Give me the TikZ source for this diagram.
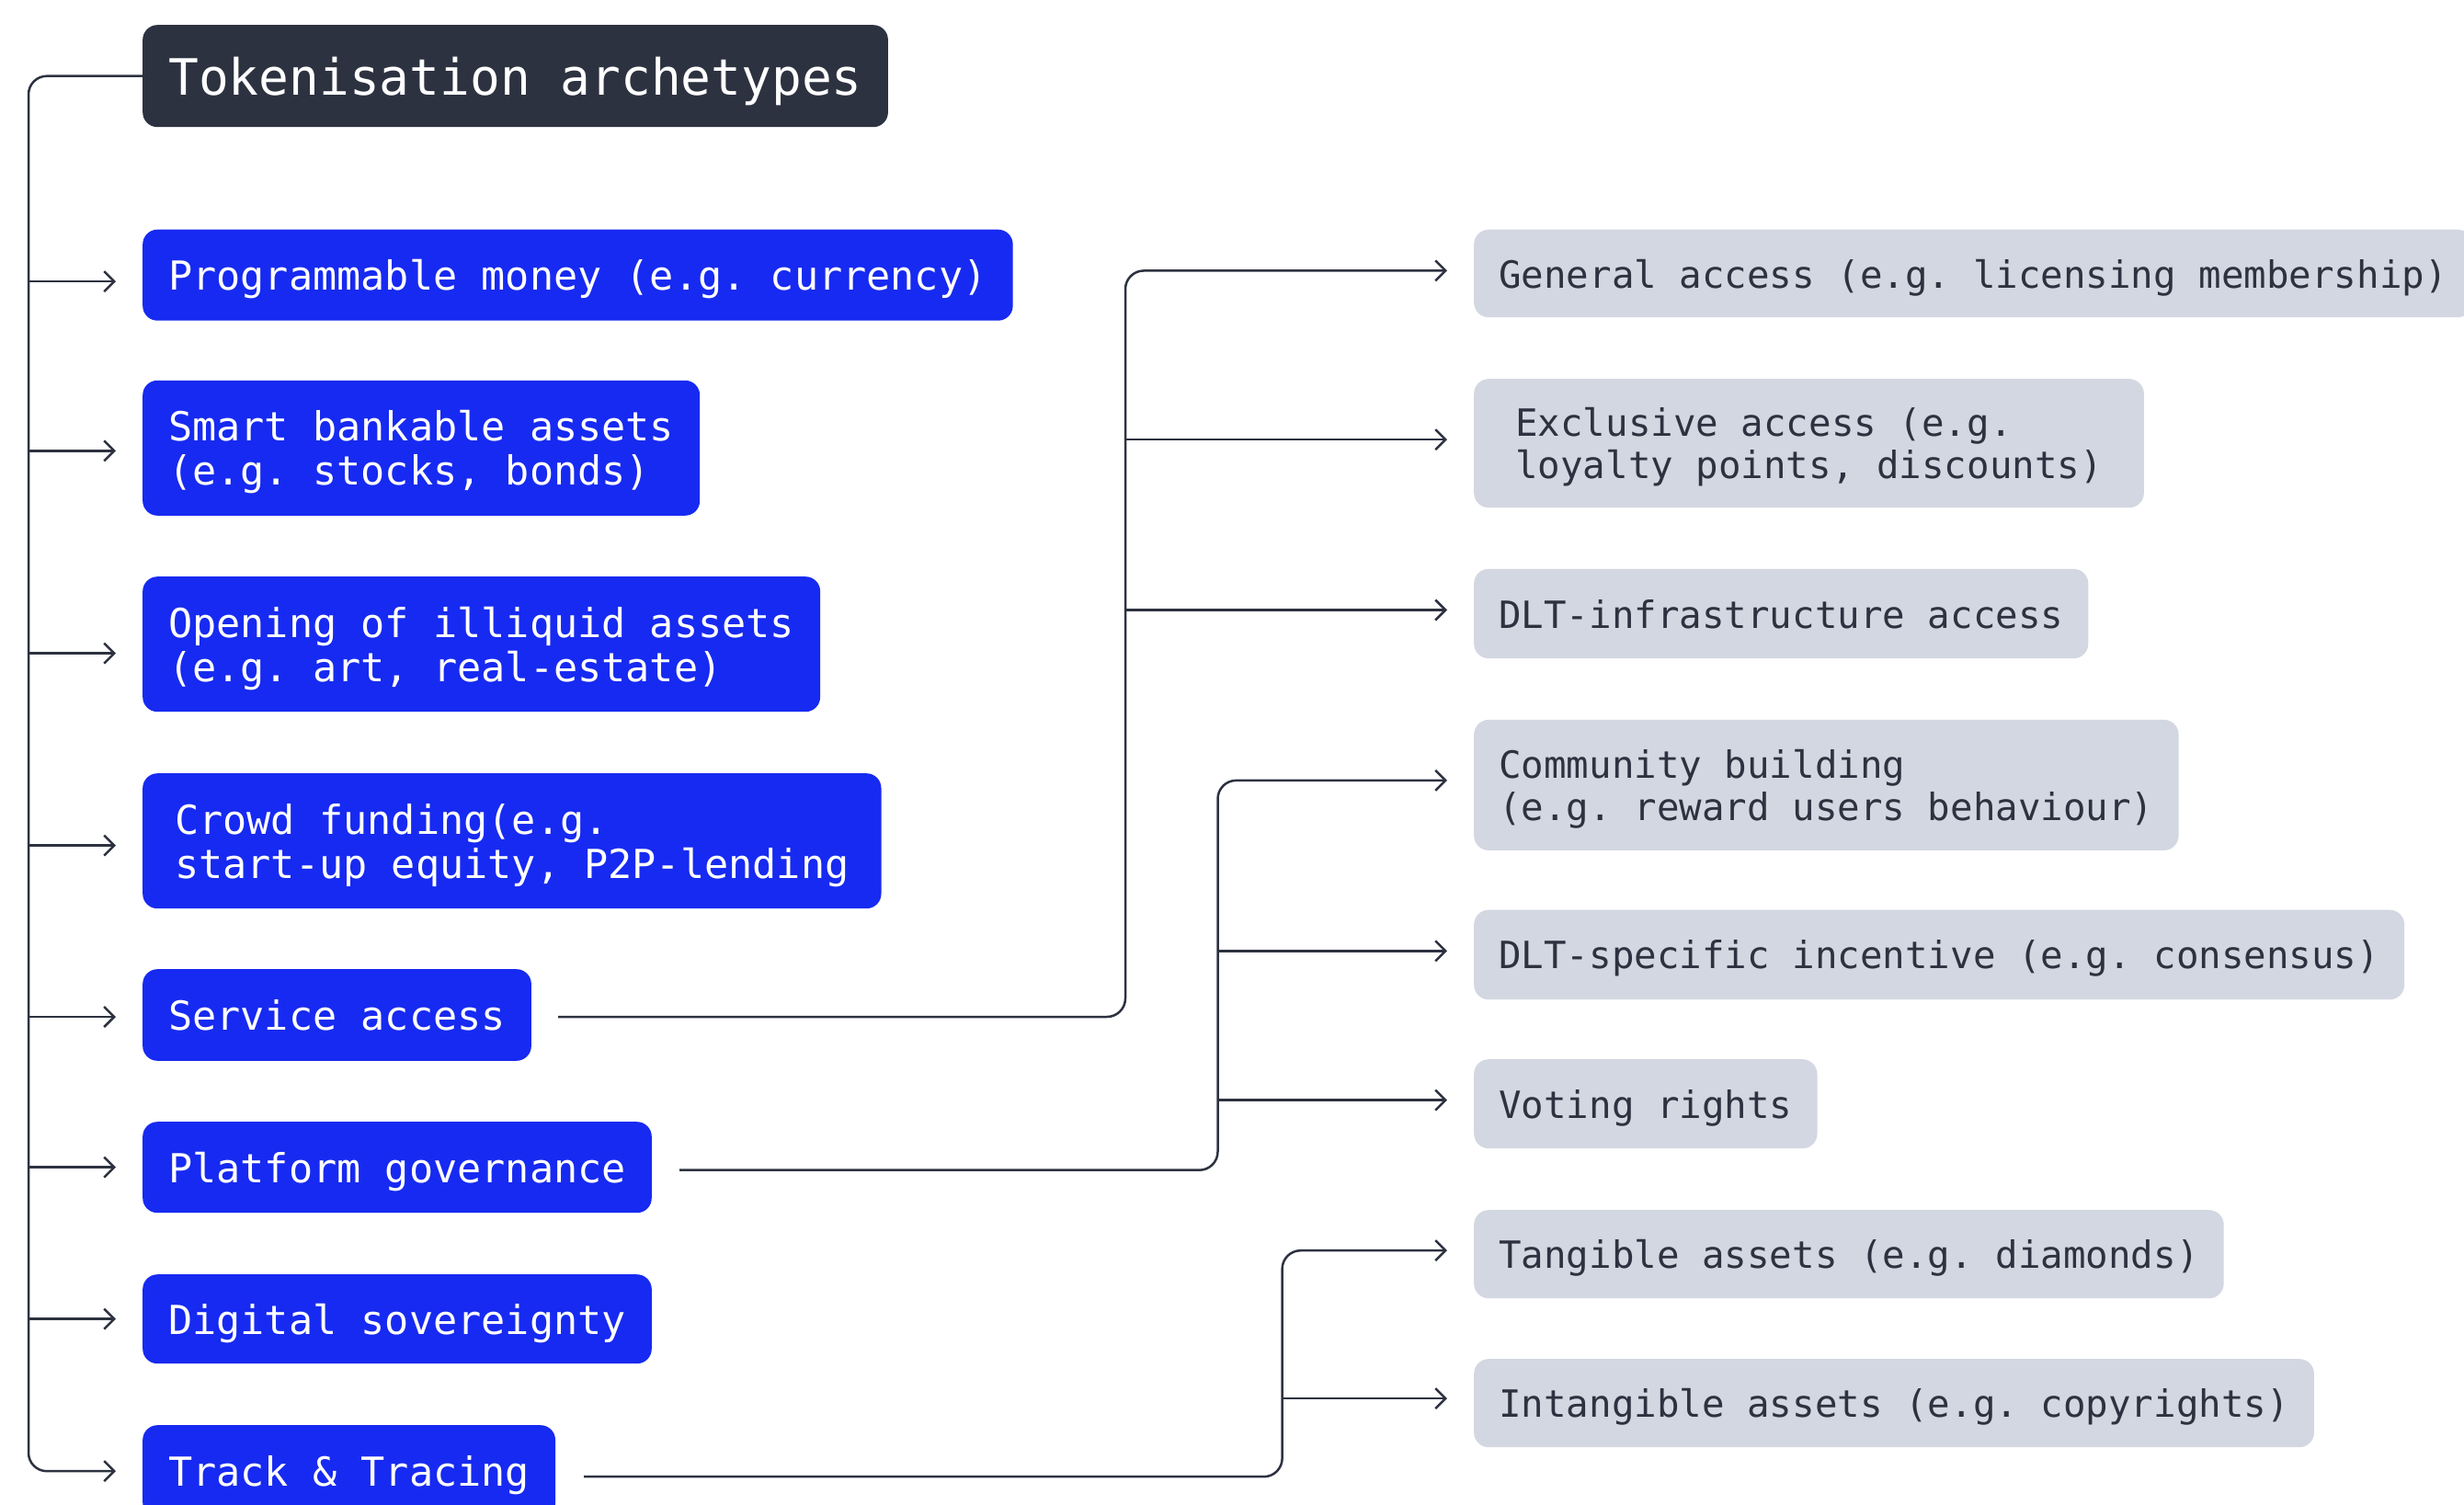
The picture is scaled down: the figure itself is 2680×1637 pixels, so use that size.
\documentclass[tikz,border=0pt]{standalone}
\usepackage{fontspec}
\newfontfamily\monof{DejaVu Sans Mono}
\usetikzlibrary{arrows.meta,calc}
\definecolor{tkdark}{HTML}{2D3240}
\definecolor{tkblue}{HTML}{172AF1}
\definecolor{tkgray}{HTML}{D3D7E1}
\begin{document}
\frenchspacing
\begin{tikzpicture}[x=1pt,y=-1pt,
  box/.style={anchor=north west, rounded corners=16pt, inner ysep=0pt, align=left, text depth=0pt},
  titlebox/.style={box, fill=tkdark, text=white, font=\monof\fontsize{54.5}{60}\selectfont\frenchspacing, inner xsep=28pt, minimum height=111pt},
  bluebox/.style={box, fill=tkblue, text=white, font=\monof\fontsize{43.5}{48}\selectfont\frenchspacing, inner xsep=28pt},
  graybox/.style={box, fill=tkgray, text=tkdark, font=\monof\fontsize{40.8}{46}\selectfont\frenchspacing, inner xsep=27pt},
  conn/.style={draw=tkdark, line width=2.5pt},
  arr/.style={conn, -{Straight Barb[length=11pt,width=22pt]}}]
\useasboundingbox (0,0) rectangle (2680,1637);
\fill[white] (0,0) rectangle (2680,1637);

% left column
\node[titlebox] (title) at (155,27) {Tokenisation archetypes};
\node[bluebox, minimum height=99pt] (prog) at (155,249.5) {Programmable money (e.g. currency)};
\node[bluebox, minimum height=147pt] (smart) at (155,413.6) {Smart bankable assets\\(e.g. stocks, bonds)};
\node[bluebox, minimum height=147pt] (open) at (155,627) {Opening of illiquid assets\\(e.g. art, real-estate)};
\node[bluebox, minimum height=147pt, inner xsep=35pt] (crowd) at (155,841) {Crowd funding(e.g.\\start-up equity, P2P-lending};
\node[bluebox, minimum height=99.6pt] (serv) at (155,1054) {Service access};
\node[bluebox, minimum height=99pt] (plat) at (155,1220) {Platform governance};
\node[bluebox, minimum height=97pt] (digi) at (155,1386) {Digital sovereignty};
\node[bluebox, minimum height=100pt] (track) at (155,1550) {Track \& Tracing};

% right column
\node[graybox, minimum height=95.5pt] (g1) at (1603,249.5) {General access (e.g. licensing membership)};
\node[graybox, minimum height=140pt, inner xsep=45pt] (g2) at (1603,412) {Exclusive access (e.g.\\loyalty points, discounts)};
\node[graybox, minimum height=97.4pt] (g3) at (1603,618.6) {DLT-infrastructure access};
\node[graybox, minimum height=142pt] (g4) at (1603,782.7) {Community building\\(e.g. reward users behaviour)};
\node[graybox, minimum height=97.5pt] (g5) at (1603,989.5) {DLT-specific incentive (e.g. consensus)};
\node[graybox, minimum height=97pt] (g6) at (1603,1152) {Voting rights};
\node[graybox, minimum height=96pt] (g7) at (1603,1316) {Tangible assets (e.g. diamonds)};
\node[graybox, minimum height=96pt] (g8) at (1603,1478) {Intangible assets (e.g. copyrights)};

% trunk
\coordinate (tl) at (31,0);
\draw[arr, rounded corners=20pt] (title.west) -- (title.west -| tl) -- (track.west -| tl) -- ([xshift=-29pt]track.west);
\draw[arr] ($(prog.west -| tl)+(0,7)$) -- ($(prog.west)+(-29,7)$);
\draw[arr] ($(smart.west -| tl)+(0,3)$) -- ($(smart.west)+(-29,3)$);
\draw[arr] ($(open.west -| tl)+(0,10)$) -- ($(open.west)+(-29,10)$);
\draw[arr] ($(crowd.west -| tl)+(0,5)$) -- ($(crowd.west)+(-29,5)$);
\draw[arr] ($(serv.west -| tl)+(0,2)$) -- ($(serv.west)+(-29,2)$);
\draw[arr] (plat.west -| tl) -- ([xshift=-29pt]plat.west);
\draw[arr] (digi.west -| tl) -- ([xshift=-29pt]digi.west);

% right connectors
\coordinate (v1) at (1224,0);
\coordinate (v2) at (1324.5,0);
\coordinate (v3) at (1394.6,0);
\draw[arr, rounded corners=20pt] ($(serv.east)+(29,2)$) -- ($(serv.east -| v1)+(0,2)$) -- ($(g1.west -| v1)+(0,-3)$) -- ($(g1.west)+(-29,-3)$);
\draw[arr] ($(g2.west -| v1)+(0,-4)$) -- ($(g2.west)+(-29,-4)$);
\draw[arr] ($(g3.west -| v1)+(0,-4)$) -- ($(g3.west)+(-29,-4)$);

\draw[arr, rounded corners=20pt] ($(plat.east)+(30,3)$) -- ($(plat.east -| v2)+(0,3)$) -- ($(g4.west -| v2)+(0,-5)$) -- ($(g4.west)+(-29,-5)$);
\draw[arr] ($(g5.west -| v2)+(0,-4)$) -- ($(g5.west)+(-29,-4)$);
\draw[arr] ($(g6.west -| v2)+(0,-4)$) -- ($(g6.west)+(-29,-4)$);

\draw[arr, rounded corners=20pt] ($(track.east)+(31,6)$) -- ($(track.east -| v3)+(0,6)$) -- ($(g7.west -| v3)+(0,-4)$) -- ($(g7.west)+(-29,-4)$);
\draw[arr] ($(g8.west -| v3)+(0,-5)$) -- ($(g8.west)+(-29,-5)$);
\end{tikzpicture}
\end{document}
